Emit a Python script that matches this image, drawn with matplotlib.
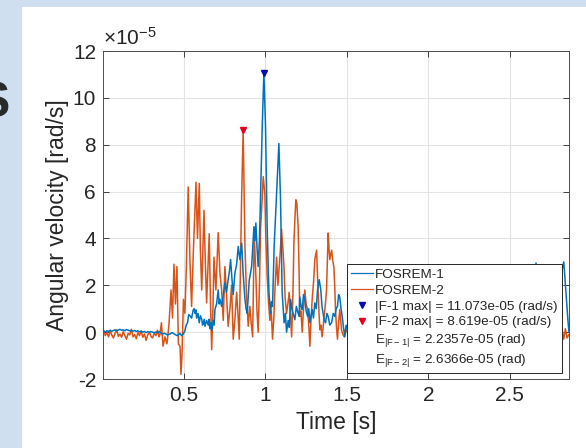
import matplotlib
matplotlib.use('Agg')
import matplotlib.pyplot as plt
from matplotlib.lines import Line2D
from matplotlib.patches import Rectangle

plt.rcParams['font.family'] = ['Liberation Sans', 'DejaVu Sans']
plt.rcParams['mathtext.fontset'] = 'custom'
plt.rcParams['mathtext.rm'] = 'Liberation Sans'
plt.rcParams['mathtext.it'] = 'Liberation Sans'
plt.rcParams['mathtext.sf'] = 'Liberation Sans'
plt.rcParams['axes.unicode_minus'] = False

# ---------------- data (angular velocity in units of 1e-5 rad/s) ----------------
t_f1 = [0.00, 0.01, 0.02, 0.03, 0.04, 0.05, 0.06, 0.07, 0.08, 0.09, 0.10, 0.11,
        0.12, 0.13, 0.14, 0.15, 0.16, 0.17, 0.18, 0.19, 0.20, 0.21, 0.22, 0.23,
        0.24, 0.25, 0.26, 0.27, 0.28, 0.29, 0.30, 0.31, 0.32, 0.33, 0.34, 0.35,
        0.355, 0.370, 0.386, 0.400, 0.416, 0.430, 0.447, 0.462, 0.478, 0.487, 0.496,
        0.508, 0.516, 0.524, 0.531, 0.539, 0.549, 0.559, 0.565, 0.570, 0.575, 0.580,
        0.588, 0.596, 0.603, 0.611, 0.616, 0.620, 0.626, 0.631, 0.641, 0.651, 0.656,
        0.661, 0.667, 0.672, 0.682, 0.687, 0.692, 0.702, 0.712, 0.718, 0.723, 0.733,
        0.743, 0.753, 0.763, 0.773, 0.781, 0.788, 0.796,
        0.804, 0.814, 0.825, 0.835, 0.845, 0.856, 0.865, 0.876, 0.883, 0.890, 0.896,
        0.902, 0.917, 0.931, 0.937, 0.943, 0.950, 0.957, 0.965, 0.972, 0.982, 0.992,
        1.002, 1.012, 1.023, 1.033, 1.039, 1.045, 1.055, 1.070, 1.084, 1.094, 1.104,
        1.116, 1.124, 1.131, 1.141, 1.148, 1.156, 1.163, 1.171, 1.182, 1.191, 1.198,
        1.208, 1.212, 1.220, 1.227, 1.235, 1.243, 1.251, 1.260, 1.267, 1.274, 1.281,
        1.288, 1.296, 1.304, 1.313, 1.321, 1.331, 1.341, 1.348, 1.355, 1.362, 1.370,
        1.378, 1.386, 1.396, 1.407, 1.417, 1.427, 1.435, 1.443, 1.450, 1.457, 1.465,
        1.472, 1.480, 1.488, 1.496, 1.505, 1.512, 1.519, 1.526, 1.533,
        1.56, 1.60, 1.65, 1.70, 1.75, 1.80, 1.85, 1.90, 1.95, 2.00, 2.05, 2.10,
        2.15, 2.20, 2.25, 2.30, 2.35, 2.40, 2.45, 2.50, 2.55, 2.60, 2.63, 2.645,
        2.66, 2.67, 2.69, 2.72, 2.75, 2.78, 2.80, 2.815, 2.83, 2.84, 2.85, 2.856,
        2.862]
v_f1 = [0.02, 0.05, 0.00, 0.06, 0.03, 0.08, 0.04, 0.07, 0.10, 0.05, 0.09, 0.12,
        0.08, 0.10, 0.06, 0.11, 0.09, 0.05, 0.08, 0.04, 0.07, 0.03, 0.06, 0.01,
        0.04, 0.00, 0.03, -0.02, 0.02, -0.01, 0.03, 0.00, -0.03, 0.01, -0.02, 0.02,
        0.0, -0.08, -0.05, -0.12, -0.08, -0.02, -0.1, -0.15, -0.05, -0.15, -0.1,
        0.05, 0.3, 0.4, 0.75, 0.7, 0.6, 0.95, 1.0, 0.8, 0.95, 0.6,
        0.8, 0.4, 0.7, 0.55, 0.3, 0.35, 0.55, 0.25, 0.5, 0.3, 0.55,
        0.15, 0.4, 0.05, 0.5, 0.3, 0.96, 1.2, 1.8, 1.2, 1.4, 1.1,
        1.6, 2.1, 1.7, 2.24, 2.6, 3.1, 2.3,
        1.6, 2.5, 2.9, 3.66, 3.1, 3.8, 2.5, 1.4, 1.0, 0.8, 1.5,
        2.2, 2.8, 4.5, 3.9, 4.66, 3.6, 2.8, 4.0, 5.9, 8.8, 11.073,
        8.8, 4.5, 1.7, 0.8, 1.3, 1.1, 3.66, 5.9, 8.05, 5.65, 1.7,
        0.4, 0.8, 0.0, 0.5, 0.2, 1.4, 1.0, 0.8, 0.53, 1.1, 0.9,
        0.67, 1.5, 1.1, 0.96, 1.6, 1.4, 0.9, 0.67, 1.0, 0.4, 0.7,
        0.96, 0.6, 1.25, 1.0, 1.8, 2.24, 1.8, 1.1, 0.8, 0.5, 0.4,
        0.8, 0.67, 0.3, 0.4, 0.8, 0.67, 1.0, 1.1, 1.6, 1.5, 1.0,
        0.67, 0.2, -0.2, 0.3, 0.1, 0.6, 0.4, 0.9, 0.67,
        0.3, 0.8, 0.4, 1.2, 0.6, 1.0, 0.3, 0.7, 0.2, 0.5, 0.1, 0.6,
        0.3, 0.8, 0.4, 0.2, 0.6, 0.3, 0.9, 0.5, 1.2, 0.7, 1.6, 2.2,
        2.95, 1.8, 0.9, 1.4, 0.8, 1.5, 1.9, 2.5, 3.0, 2.0, 1.0, 0.46,
        0.0]

t_f2 = [0.00, 0.01, 0.02, 0.03, 0.04, 0.05, 0.06, 0.07, 0.08, 0.09, 0.10, 0.11,
        0.12, 0.13, 0.14, 0.15, 0.16, 0.17, 0.18, 0.19, 0.20, 0.21, 0.22, 0.23,
        0.24, 0.25, 0.26, 0.27, 0.28, 0.29, 0.30, 0.31, 0.32, 0.33, 0.34, 0.35,
        0.355, 0.364, 0.374, 0.386, 0.398, 0.410, 0.423, 0.432, 0.441, 0.450,
        0.459, 0.468, 0.478, 0.484, 0.490, 0.499, 0.508, 0.517, 0.528, 0.539,
        0.549, 0.560, 0.576, 0.585, 0.596, 0.603, 0.611, 0.625, 0.633, 0.641,
        0.657, 0.664, 0.672, 0.680, 0.686, 0.698, 0.712, 0.723, 0.733, 0.743,
        0.753, 0.764, 0.773, 0.784, 0.794, 0.804, 0.814, 0.825, 0.833, 0.841,
        0.848, 0.856, 0.865, 0.876, 0.885, 0.896, 0.906, 0.914, 0.923, 0.933,
        0.943, 0.949, 0.957, 0.965, 0.972, 0.980, 0.988, 0.998, 1.004, 1.012,
        1.021, 1.029, 1.037, 1.045, 1.053, 1.059, 1.070, 1.078, 1.086, 1.093,
        1.100, 1.108, 1.115, 1.122, 1.131, 1.139, 1.147, 1.154, 1.162, 1.170,
        1.176, 1.182, 1.188, 1.194, 1.202, 1.208, 1.212, 1.219, 1.227, 1.234,
        1.243, 1.251, 1.260, 1.268, 1.274, 1.280, 1.288, 1.297, 1.304, 1.315,
        1.324, 1.330, 1.335, 1.341, 1.349, 1.355, 1.361, 1.369, 1.376, 1.381,
        1.386, 1.391, 1.396, 1.407, 1.415, 1.421, 1.427, 1.431, 1.437, 1.443,
        1.450, 1.457, 1.464, 1.468, 1.476, 1.484, 1.491, 1.498, 1.508, 1.519,
        1.531,
        1.55, 1.58, 1.62, 1.66, 1.70, 1.75, 1.80, 1.85, 1.90, 1.95, 2.00, 2.05,
        2.10, 2.15, 2.20, 2.25, 2.30, 2.35, 2.40, 2.45, 2.50, 2.55, 2.60, 2.65,
        2.70, 2.75, 2.80, 2.82, 2.83, 2.84, 2.85, 2.862]
v_f2 = [-0.05, 0.08, -0.15, -0.02, -0.20, 0.05, -0.12, -0.25, -0.05, 0.10, -0.18, -0.08,
        -0.22, 0.02, -0.15, -0.30, -0.05, -0.12, 0.12, -0.20, -0.10, -0.28, -0.02, -0.15,
        0.05, -0.22, -0.08, -0.35, -0.12, 0.00, -0.18, -0.25, -0.05, -0.15, 0.08, -0.20,
        -0.1, 0.4, -0.6, -0.2, -0.5, 0.3, 1.8, 0.6, 2.9, 1.2,
        2.8, -0.5, -0.6, -1.8, -1.0, 1.4, 0.8, 2.8, 6.2, 3.0,
        1.1, 3.5, 6.4, 4.0, 6.35, 3.5, 1.8, 5.2, 3.0, 1.25,
        4.2, 1.5, -0.75, 1.0, 3.2, 1.8, 4.25, 2.5, 1.8, 0.5,
        2.8, 1.5, 0.25, 1.0, 2.0, -0.3, 0.5, 1.7, 0.8, -0.3,
        2.5, 5.9, 8.619, 3.66, 1.7, 0.25, 1.1, 0.4, -0.2, 4.2,
        2.4, 1.0, 0.0, 2.0, 4.5, 5.5, 6.64, 5.9, 4.0, 2.4,
        1.2, 0.5, 0.9, -0.3, 0.6, 1.7, 3.2, 2.0, 2.8, 3.5,
        4.4, 3.6, 2.8, 1.5, 0.8, 1.2, 1.7, 0.8, -0.2, 1.6,
        3.8, 4.8, 5.65, 5.5, 4.5, 2.5, 0.67, 0.9, 0.0, 0.9,
        1.8, 1.2, 0.96, 0.2, -0.6, 0.4, 1.4, 2.2, 3.1, 3.5,
        1.8, 0.8, 0.1, 0.3, -0.2, 0.2, 0.67, 1.2, 1.8, 3.0,
        4.23, 3.6, 3.1, 3.5, 3.0, 2.8, 1.8, 0.96, 0.2, -0.3,
        0.4, 0.96, 0.4, 0.1, -0.1, -0.2, 0.0, 0.1, -0.1, -0.2,
        0.1,
        0.2, -0.3, 0.5, -0.2, 0.3, -0.1, 0.4, -0.2, 0.2, -0.3, 0.1, -0.2,
        0.3, -0.1, 0.2, -0.25, 0.1, -0.2, 0.3, -0.1, 0.2, -0.3, 0.1, -0.2,
        0.2, -0.1, -0.1, 0.1, -0.3, 0.15, -0.25, -0.1]

peak_f1_t, peak_f1_v = 0.992, 11.073
peak_f2_t, peak_f2_v = 0.865, 8.619

labels = ['FOSREM-1', 'FOSREM-2',
          '|F-1 max| = 11.073e-05 (rad/s)',
          '|F-2 max| = 8.619e-05 (rad/s)',
          r'E$_{\mathregular{|F-1|}}$ = 2.2357e-05 (rad)',
          r'E$_{\mathregular{|F-2|}}$ = 2.6366e-05 (rad)']
xticks = [0.5, 1, 1.5, 2, 2.5]
xticklabels = ['0.5', '1', '1.5', '2', '2.5']
yticks = [-2, 0, 2, 4, 6, 8, 10, 12]
yticklabels = ['-2', '0', '2', '4', '6', '8', '10', '12']

# ---------------- figure ----------------
C1 = '#0072BD'
C2 = '#D95319'
TXT = '#262626'

fig = plt.figure(figsize=(5.86, 4.48), dpi=100, facecolor='#cfdff0')
fig.patches.append(Rectangle((22 / 586, 0), 1 - 22 / 586, (448 - 7) / 448,
                             transform=fig.transFigure, facecolor='white',
                             edgecolor='none', zorder=-10))
fig.text(-0.012, 1 - 104 / 448, 'S', fontsize=36, fontweight='bold', color='#2a2a2a',
         ha='center', va='center')

ax = fig.add_axes([103 / 586, 69 / 448, 466 / 586, 328 / 448])
ax.set_facecolor('white')

l2, = ax.plot(t_f2, v_f2, color=C2, lw=1.1, zorder=2)
l1, = ax.plot(t_f1, v_f1, color=C1, lw=1.1, zorder=3)
m1, = ax.plot([peak_f1_t], [peak_f1_v], ls='none', marker='v', color='#0a0ab4',
              ms=5, zorder=4)
m2, = ax.plot([peak_f2_t], [peak_f2_v], ls='none', marker='v', color='#e6001e',
              ms=5, zorder=4)
e1 = Line2D([], [], ls='none', marker='none')
e2 = Line2D([], [], ls='none', marker='none')

ax.set_xlim(0.006, 2.862)
ax.set_ylim(-2, 12)
ax.set_xticks(xticks)
ax.set_xticklabels(xticklabels)
ax.set_yticks(yticks)
ax.set_yticklabels(yticklabels)
ax.grid(True, color='#e3e3e3', lw=0.8)
ax.set_axisbelow(True)
ax.tick_params(direction='in', top=True, right=True, length=4, width=0.6,
               colors=TXT, labelsize=15, pad=5)
for s in ax.spines.values():
    s.set_color('#4d4d4d')
    s.set_linewidth(0.7)

ax.set_xlabel('Time [s]', fontsize=16.5, color=TXT, labelpad=4)
ax.set_ylabel('Angular velocity [rad/s]', fontsize=16.5, color=TXT, labelpad=3)
ax.text(0.0, 1.008, r'$\times\mathregular{10^{-5}}$', transform=ax.transAxes,
        fontsize=15, color=TXT, ha='left', va='bottom')

leg = ax.legend([l1, l2, m1, m2, e1, e2], labels, loc='lower right',
                bbox_to_anchor=(0.985, 0.018), fontsize=9.7, frameon=True,
                fancybox=False, framealpha=1, edgecolor='#262626',
                borderpad=0.3, labelspacing=0.25, handlelength=1.6,
                handletextpad=0.2, borderaxespad=0, markerscale=0.8)
leg.get_frame().set_linewidth(0.7)
for h in leg.get_lines()[:2]:
    h.set_linewidth(0.9)
for t in leg.get_texts():
    t.set_color(TXT)

fig.savefig('out.png', dpi=100, facecolor=fig.get_facecolor())
